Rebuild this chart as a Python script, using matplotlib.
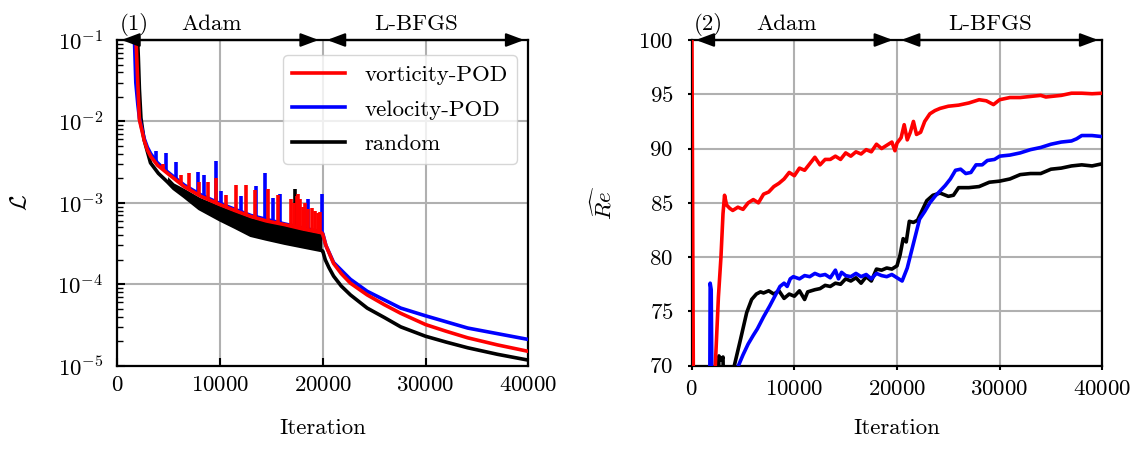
import numpy as np
import matplotlib
matplotlib.use('Agg')
import matplotlib.pyplot as plt
from matplotlib.patches import ArrowStyle

# ---------------- data: loss (panel 1) ----------------
red_it = [1800, 1950, 2150, 2610, 2930, 3260, 3910, 4890, 6520, 8150, 10000, 11500, 13000,
          14500, 16300, 18000, 19870, 20000, 20300, 21050, 21800, 22690, 24320, 26000, 27580,
          30000, 32000, 34100, 37000, 40000]
red_loss = [0.12, 0.04, 0.0105, 5.9e-3, 4.45e-3, 3.7e-3, 2.9e-3, 2.3e-3, 1.58e-3, 1.2e-3, 9.5e-4,
            8.0e-4, 6.8e-4, 6.0e-4, 5.4e-4, 4.8e-4, 4.3e-4, 4.1e-4, 3.0e-4, 1.8e-4, 1.35e-4,
            1.03e-4, 7.4e-5, 5.6e-5, 4.4e-5, 3.2e-5, 2.65e-5, 2.2e-5, 1.8e-5, 1.5e-5]

blue_it = [1650, 1800, 2000, 2150, 2610, 2930, 3260, 3910, 4890, 6520, 8150, 10000, 13000,
           16300, 19870, 20000, 20300, 21050, 22690, 24320, 27580, 30000, 34100, 40000]
blue_loss = [0.12, 0.03, 0.016, 0.011, 6.2e-3, 4.8e-3, 4.0e-3, 3.1e-3, 2.4e-3, 1.65e-3, 1.25e-3,
             9.8e-4, 7.0e-4, 5.5e-4, 4.4e-4, 4.2e-4, 3.0e-4, 1.85e-4, 1.15e-4, 8.2e-5, 5.1e-5,
             4.1e-5, 2.9e-5, 2.1e-5]

black_it = [1950, 2050, 2150, 2300, 2600, 3230, 4000, 4890, 5500, 6520, 8000, 10000, 11500,
            13000, 14500, 16300, 18000, 19900, 20000, 20240, 20600, 21050, 21800, 22690, 24320,
            26000, 27580, 30000, 32000, 34100, 37000, 40000]
black_loss = [0.12, 0.06, 0.025, 0.011, 6e-3, 3.1e-3, 2.3e-3, 1.8e-3, 1.5e-3, 1.2e-3, 8.5e-4,
              6.2e-4, 5.0e-4, 4.0e-4, 3.6e-4, 3.2e-4, 2.9e-4, 2.6e-4, 2.55e-4, 2.0e-4, 1.6e-4,
              1.26e-4, 9.5e-5, 7.4e-5, 5.1e-5, 3.9e-5, 3.0e-5, 2.3e-5, 1.95e-5, 1.66e-5,
              1.38e-5, 1.17e-5]

# oscillation band of the random initialisation during Adam
band_it = [4890, 5500, 6520, 8000, 10000, 11500, 13000, 14500, 16300, 18000, 19900]
band_low = [1.8e-3, 1.5e-3, 1.2e-3, 8.5e-4, 6.2e-4, 5.0e-4, 4.0e-4, 3.6e-4, 3.2e-4, 2.9e-4, 2.6e-4]
band_high = [2.1e-3, 1.75e-3, 1.5e-3, 1.17e-3, 9.2e-4, 7.8e-4, 6.6e-4, 5.9e-4, 5.3e-4, 4.7e-4, 4.2e-4]

# spikes (iteration, base, peak)
red_spike_it = [4400, 6200, 7010, 7990, 8800, 9620, 10600, 11570, 12550, 13370, 14670, 15650,
                16950, 17200, 17450, 17600, 17800, 18100, 18300, 18600, 18900, 19200, 19500, 19720]
red_spike_base = [2.6e-3, 1.7e-3, 1.45e-3, 1.25e-3, 1.12e-3, 1.02e-3, 9.0e-4, 8.1e-4, 7.2e-4,
                  6.6e-4, 6.0e-4, 5.6e-4, 5.2e-4, 5.1e-4, 5.0e-4, 5.0e-4, 4.9e-4, 4.8e-4, 4.7e-4,
                  4.7e-4, 4.6e-4, 4.5e-4, 4.4e-4, 4.35e-4]
red_spike_peak = [3.0e-3, 2.2e-3, 2.3e-3, 1.8e-3, 1.8e-3, 2.0e-3, 1.25e-3, 1.66e-3, 1.66e-3,
                  1.45e-3, 1.5e-3, 1.25e-3, 1.1e-3, 1.0e-3, 1.2e-3, 1.3e-3, 1.1e-3, 9.0e-4,
                  1.0e-3, 8.5e-4, 8.7e-4, 8.0e-4, 7.5e-4, 7.8e-4]

blue_spike_it = [3750, 4730, 5700, 7820, 8470, 9620, 10100, 12060, 13530, 14340, 15160, 15810,
                 18580, 19900]
blue_spike_base = [3.1e-3, 2.4e-3, 2.0e-3, 1.3e-3, 1.2e-3, 1.05e-3, 9.8e-4, 7.9e-4, 6.7e-4,
                   6.2e-4, 5.8e-4, 5.6e-4, 4.6e-4, 4.3e-4]
blue_spike_peak = [4.3e-3, 4.1e-3, 3.2e-3, 2.4e-3, 2.2e-3, 3.3e-3, 1.4e-3, 1.2e-3, 1.6e-3,
                   2.3e-3, 1.15e-3, 1.3e-3, 1.1e-3, 1.3e-3]

black_spike_it = [17300]
black_spike_base = [4.8e-4]
black_spike_peak = [1.5e-3]

# ---------------- data: identified Reynolds number (panel 2) ----------------
re_red_it = [0, 200, 2200, 2300, 2600, 2850, 3050, 3200, 3400, 3700, 4000, 4500, 5000, 5500,
             6000, 6500, 7000, 7500, 8000, 8500, 9000, 9500, 10000, 10500, 11000, 11500, 12000,
             12500, 13000, 13500, 14000, 14500, 15000, 15500, 16000, 16500, 17000, 17500, 18000,
             18500, 19000, 19500, 19800, 20000, 20400, 20700, 21000, 21300, 21600, 21900, 22300,
             22700, 23200, 23700, 24200, 25000, 26000, 27000, 28000, 28700, 29400, 30000, 31000,
             32000, 33000, 34000, 34500, 35000, 36000, 37000, 38000, 39000, 40000]
re_red = [105, 60, 60, 70, 76.3, 80, 84, 85.7, 84.8, 84.5, 84.3, 84.6, 84.4, 85.0, 85.3, 85.0,
          85.8, 86.0, 86.5, 86.8, 87.2, 87.8, 87.5, 88.2, 88.0, 88.6, 89.2, 88.5, 89.0, 89.0,
          89.3, 89.0, 89.6, 89.3, 89.7, 89.5, 89.9, 89.7, 90.4, 90.0, 90.3, 90.6, 89.8, 90.5,
          91.0, 92.2, 90.8, 91.5, 92.5, 91.3, 91.5, 92.5, 93.2, 93.5, 93.7, 93.9, 94.0, 94.2,
          94.5, 94.4, 94.05, 94.5, 94.7, 94.7, 94.8, 94.9, 94.75, 94.8, 94.9, 95.1, 95.1, 95.05,
          95.1]

re_blue_it = [1750, 1800, 1900, 2000, 4400, 4550, 5000, 5500, 6000, 6400, 7000, 7600, 8100,
              8600, 9000, 9300, 9600, 9900, 10500, 11000, 11500, 12000, 12500, 13000, 13500,
              14000, 14300, 14600, 15000, 15500, 16000, 16500, 17000, 17500, 18000, 18500, 19000,
              19500, 20000, 20500, 21000, 21400, 21800, 22200, 22700, 23200, 23700, 24200, 24700,
              25200, 25700, 26200, 26700, 27200, 27700, 28300, 28800, 29500, 30000, 31000, 32000,
              33000, 34000, 35000, 36000, 37000, 37500, 38000, 39000, 40000]
re_blue = [65, 77.6, 77.0, 65, 65, 70, 71.0, 72.0, 72.8, 73.4, 74.5, 75.5, 76.4, 77.3, 77.6, 77.3,
           78.0, 78.2, 78.0, 78.3, 78.2, 78.5, 78.3, 78.4, 78.1, 78.8, 78.0, 78.6, 78.3, 78.2,
           78.5, 78.2, 78.4, 78.0, 78.5, 78.3, 78.2, 78.4, 78.1, 77.8, 79.0, 80.5, 82.0, 83.5,
           84.2, 85.0, 85.6, 86.1, 86.6, 87.2, 88.0, 88.1, 87.7, 87.8, 88.5, 88.5, 88.9, 89.0,
           89.3, 89.4, 89.6, 89.9, 90.1, 90.4, 90.6, 90.7, 90.9, 91.2, 91.2, 91.1]

re_black_it = [2550, 2650, 2900, 3050, 3150, 3950, 4150, 4750, 5360, 5840, 6300, 6700, 7000,
               7500, 8000, 8500, 9000, 9500, 10000, 10500, 11000, 11300, 12000, 12500, 13000,
               13500, 14000, 14500, 15000, 15500, 16000, 16500, 17000, 17500, 18000, 18500, 19000,
               19500, 20000, 20300, 20600, 20900, 21200, 21600, 22000, 22400, 22900, 23500, 24200,
               25000, 25500, 26000, 27000, 28000, 29000, 30000, 31000, 32000, 33000, 34000, 35000,
               36000, 37000, 38000, 39000, 40000]
re_black = [65, 70.9, 70.5, 70.8, 65, 65, 70, 72.4, 74.9, 76.1, 76.6, 76.8, 76.7, 76.9, 76.6, 76.9,
            76.2, 76.6, 76.4, 76.9, 76.1, 76.8, 77.0, 77.1, 77.4, 77.3, 77.6, 77.5, 78.0, 77.8,
            78.1, 77.6, 78.2, 77.8, 78.9, 78.8, 79.0, 78.9, 79.2, 80.2, 81.7, 81.4, 83.3, 83.2,
            83.4, 84.2, 85.2, 85.7, 85.9, 85.6, 85.7, 86.4, 86.4, 86.5, 86.9, 87.0, 87.2, 87.6,
            87.7, 87.7, 88.1, 88.2, 88.4, 88.5, 88.4, 88.6]

x_ticks = [0, 10000, 20000, 30000, 40000]
re_ticks = [70, 75, 80, 85, 90, 95, 100]
legend_labels = ['vorticity-POD', 'velocity-POD', 'random']
phase_labels = ['Adam', 'L-BFGS']

# ---------------- style ----------------
FS = 16.5
plt.rcParams.update({
    'font.family': 'serif',
    'font.serif': ['cmr10'],
    'mathtext.fontset': 'cm',
    'axes.formatter.use_mathtext': True,
    'axes.unicode_minus': False,
    'font.size': FS,
})

LW = 2.6
RED, BLUE, BLACK = '#ff0000', '#0000ff', '#000000'

fig = plt.figure(figsize=(11.36, 4.53), dpi=100)
ax1 = fig.add_axes([0.10326, 0.19272, 0.36180, 0.71898])
ax2 = fig.add_axes([0.60889, 0.19272, 0.36144, 0.71898])

# ---- panel 1 ----
ax1.fill_between(band_it, band_low, band_high, color=BLACK, lw=0, zorder=2)
ax1.vlines(black_spike_it, black_spike_base, black_spike_peak, color=BLACK, lw=LW, zorder=2)
lk, = ax1.plot(black_it, black_loss, color=BLACK, lw=LW, zorder=2)
ax1.vlines(blue_spike_it, blue_spike_base, blue_spike_peak, color=BLUE, lw=LW, zorder=3)
lb, = ax1.plot(blue_it, blue_loss, color=BLUE, lw=LW, zorder=3)
ax1.vlines(red_spike_it, red_spike_base, red_spike_peak, color=RED, lw=LW, zorder=4)
lr, = ax1.plot(red_it, red_loss, color=RED, lw=LW, zorder=4)

ax1.set_yscale('log')
ax1.set_ylim(1e-5, 1e-1)
ax1.set_xlim(0, 40000)
ax1.set_xticks(x_ticks)
ax1.set_xlabel('Iteration', labelpad=17)
ax1.set_ylabel(r'$\mathcal{L}$', labelpad=20)
ax1.tick_params(which='both', direction='in', top=False, right=False)
ax1.tick_params(which='major', length=6, width=1.5)
ax1.tick_params(which='minor', length=4, width=1.0)
ax1.tick_params(axis='x', pad=7)
ax1.tick_params(axis='y', pad=10)

leg = ax1.legend([lr, lb, lk], legend_labels, loc='upper right', bbox_to_anchor=(1.0, 0.988),
                 handlelength=2.3, handletextpad=0.85, labelspacing=0.65, fontsize=FS,
                 framealpha=0.8, borderaxespad=0.5)
leg.set_zorder(10)

# ---- panel 2 ----
ax2.plot(re_black_it, re_black, color=BLACK, lw=LW, zorder=2)
ax2.plot(re_blue_it, re_blue, color=BLUE, lw=LW, zorder=3)
ax2.plot(re_red_it, re_red, color=RED, lw=LW, zorder=4)
ax2.set_xlim(0, 40000)
ax2.set_ylim(70, 100)
ax2.set_xticks(x_ticks)
ax2.set_yticks(re_ticks)
ax2.set_xlabel('Iteration', labelpad=14)
ax2.set_ylabel(r'$\widehat{Re}$', labelpad=16)
ax2.tick_params(which='both', direction='out', top=False, right=False, length=3.2, width=1.5)
ax2.tick_params(axis='x', pad=7)
ax2.tick_params(axis='y', pad=10)

arrow_style = ArrowStyle('<|-|>', head_length=0.4, head_width=0.15)
for ax, tag in ((ax1, '(1)'), (ax2, '(2)')):
    ax.grid(True, which='major', color='#b0b0b0', lw=1.5)
    ax.set_axisbelow(True)
    for s in ax.spines.values():
        s.set_linewidth(1.6)
    for x0, x1 in ((0, 20000), (20000, 40000)):
        ax.annotate('', xy=(x0, 1), xycoords=('data', 'axes fraction'),
                    xytext=(x1, 1), textcoords=('data', 'axes fraction'),
                    arrowprops=dict(arrowstyle=arrow_style, mutation_scale=27, lw=1.6,
                                    color='k', shrinkA=3, shrinkB=3),
                    annotation_clip=False, zorder=12)
    ax.text(200, 1.031, tag, transform=ax.get_xaxis_transform(), ha='left', va='baseline',
            fontsize=FS)
    ax.text(9200, 1.031, phase_labels[0], transform=ax.get_xaxis_transform(), ha='center',
            va='baseline', fontsize=FS)
    ax.text(29100, 1.031, phase_labels[1], transform=ax.get_xaxis_transform(), ha='center',
            va='baseline', fontsize=FS)

fig.savefig('out.png', dpi=100)
